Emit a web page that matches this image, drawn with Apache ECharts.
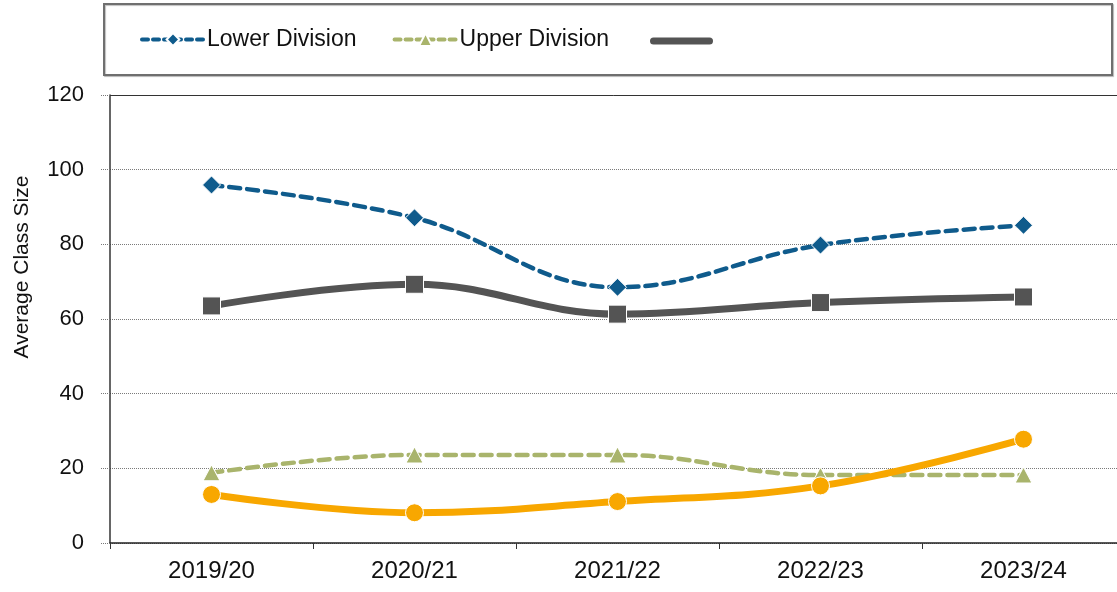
<!DOCTYPE html>
<html>
<head>
<meta charset="utf-8">
<script src="https://cdn.jsdelivr.net/npm/echarts@6/dist/echarts.min.js"></script>
<style>
html,body{margin:0;padding:0;background:#fff;}
#chart{width:1117px;height:592px;}
</style>
</head>
<body>
<div id="chart"></div>
<script>
var categories = ['2019/20', '2020/21', '2021/22', '2022/23', '2023/24'];
var lowerDivision = [95.9, 87.1, 68.5, 79.8, 85.1];
var upperDivision = [18.8, 23.6, 23.6, 18.2, 18.2];
var overall = [63.5, 69.3, 61.3, 64.4, 65.9];
var graduate = [13.0, 8.1, 11.1, 15.3, 27.8];
var yTicks = [0, 20, 40, 60, 80, 100, 120];

var FONT = '"Liberation Sans", Arial, sans-serif';
var chart = echarts.init(document.getElementById('chart'));

var option = {
  backgroundColor: '#ffffff',
  animation: false,
  textStyle: { fontFamily: FONT },
  graphic: [
    {
      type: 'rect',
      shape: { x: 104, y: 4, width: 1008, height: 71 },
      style: { fill: '#fff', stroke: '#6f6f6f', lineWidth: 2, shadowColor: 'rgba(0,0,0,0.25)', shadowOffsetX: 1, shadowOffsetY: 1, shadowBlur: 1 },
      z: -10
    },
    {
      type: 'text',
      x: 22, y: 267,
      rotation: Math.PI / 2,
      style: { text: 'Average Class Size', font: '21px ' + FONT, fill: '#111', align: 'center', verticalAlign: 'middle' }
    }
  ],
  legend: [
    {
      left: 140, top: 28, padding: 0,
      itemWidth: 62, itemHeight: 16, itemGap: 36,
      textStyle: { fontSize: 23, color: '#111', fontFamily: FONT, padding: [0, 0, 0, -2] },
      data: [
        { name: 'Lower Division', lineStyle: { width: 4, type: [6, 5], cap: 'round' } },
        { name: 'Upper Division', lineStyle: { width: 4, type: [6, 5], cap: 'round' } }
      ]
    },
    {
      left: 650, top: 37.5, padding: 0,
      itemWidth: 63, itemHeight: 7,
      icon: 'path://M3.5,0H59.5A3.5,3.5 0 0 1 59.5,7H3.5A3.5,3.5 0 0 1 3.5,0Z',
      formatter: function () { return ''; },
      textStyle: { fontSize: 2 },
      data: [{ name: 'Overall', itemStyle: { color: '#545454', borderWidth: 0 } }]
    }
  ],
  grid: { left: 110, top: 95, width: 1015, bottom: 49, outerBoundsMode: 'none', containLabel: false },
  xAxis: [
    {
      type: 'category',
      data: categories,
      boundaryGap: true,
      axisLine: { show: true, lineStyle: { color: '#222', width: 1.5 } },
      axisTick: { show: true, length: 6, alignWithLabel: false, lineStyle: { color: '#333', width: 1 } },
      axisLabel: { fontSize: 24, color: '#111', margin: 16, fontFamily: FONT },
      splitLine: { show: false }
    },
    {
      type: 'category',
      position: 'top',
      data: categories,
      axisLine: { show: true, lineStyle: { color: '#333', width: 1 } },
      axisTick: { show: false },
      axisLabel: { show: false }
    }
  ],
  yAxis: {
    type: 'value',
    min: 0, max: 120, interval: 20,
    axisLine: { show: true, lineStyle: { color: '#333', width: 1.5 } },
    axisTick: { show: true, length: 9, lineStyle: { color: '#777', type: 'dotted', width: 1 } },
    axisLabel: {
      fontSize: 22, color: '#111', margin: 26, fontFamily: FONT,
      formatter: function (v) { return yTicks.indexOf(v) >= 0 ? String(v) : ''; }
    },
    splitLine: { show: true, lineStyle: { color: '#7a7a7a', type: 'dotted', width: 1 } }
  },
  series: [
    {
      name: 'Lower Division', type: 'line', data: lowerDivision, smooth: 0.4,
      symbol: 'diamond', symbolSize: [18, 18],
      lineStyle: { color: '#0f5b8c', width: 4.5, type: [11, 7], cap: 'round' },
      itemStyle: { color: '#0f5b8c', borderColor: '#fff', borderWidth: 1 },
      z: 2
    },
    {
      name: 'Upper Division', type: 'line', data: upperDivision, smooth: 0.4,
      symbol: 'triangle', symbolSize: [17, 16],
      lineStyle: { color: '#a9b46c', width: 4.5, type: [11, 7], cap: 'round' },
      itemStyle: { color: '#a9b46c', borderColor: '#fff', borderWidth: 1 },
      z: 3
    },
    {
      name: 'Overall', type: 'line', data: overall, smooth: 0.4,
      symbol: 'rect', symbolSize: 18,
      lineStyle: { color: '#545454', width: 7 },
      itemStyle: { color: '#545454', borderColor: '#fff', borderWidth: 1 },
      z: 4
    },
    {
      name: 'Graduate', type: 'line', data: graduate, smooth: 0.4,
      symbol: 'circle', symbolSize: 18,
      lineStyle: { color: '#f8a700', width: 7 },
      itemStyle: { color: '#f8a700', borderColor: '#fff', borderWidth: 1 },
      z: 5
    }
  ]
};
chart.setOption(option);
</script>
</body>
</html>
